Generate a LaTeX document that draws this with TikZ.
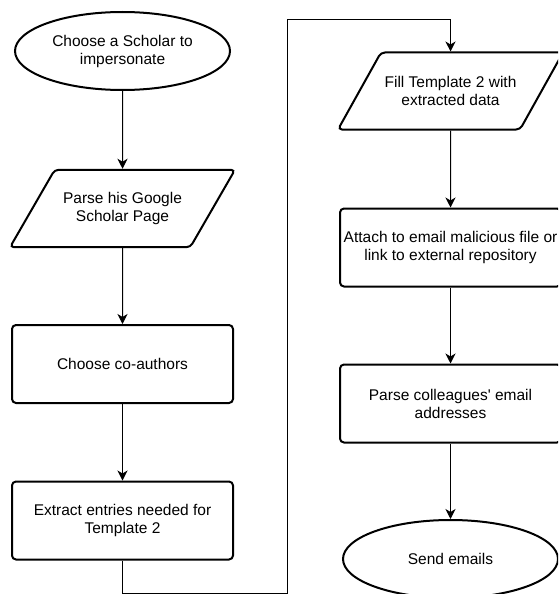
\documentclass[tikz,border=0pt]{standalone}
\usepackage{fontspec}
\setmainfont{Liberation Sans}
\usepackage{tikz}
\usetikzlibrary{shapes.geometric,arrows.meta}

\tikzset{
  base/.style={draw, line width=2pt, align=center, inner sep=0pt,
    font=\fontsize{15.5}{18}\selectfont},
  terminal/.style={base, ellipse, minimum width=215pt, minimum height=78pt},
  io/.style={base, trapezium, trapezium left angle=60, trapezium right angle=120,
    trapezium stretches body, inner ysep=22.5pt, minimum width=225pt,
    minimum height=77pt, rounded corners=4pt},
  process/.style={base, rectangle, rounded corners=4pt,
    minimum width=221pt, minimum height=78pt},
  flow/.style={line width=1pt, -{Stealth[length=10pt,width=10pt,inset=3pt]}}
}

\begin{document}
\begin{tikzpicture}[x=1pt,y=-1pt]

% Fix the page to the size of the reference
\useasboundingbox (0,0) rectangle (558,594);
\clip (0,0) rectangle (558,594);

% Corners of the long connector
\coordinate (low) at (287,593);
\coordinate (high) at (287,20);

% Left column
\node[terminal] (scholar) at (122.5,51) {Choose a Scholar to\\impersonate};
\node[io] (page) at (122.5,208.5) {Parse his Google\\Scholar Page};
\node[process] (coauthors) at (122.5,364) {Choose co-authors};
\node[process] (extract) at (122.5,520.5) {Extract entries needed for\\Template 2};

% Right column
\node[io] (fill) at (450.5,91) {Fill Template 2 with\\extracted data};
\node[process] (attach) at (450.5,247.5) {Attach to email malicious file or\\link to external repository};
\node[process] (colleagues) at (450.5,403.5) {Parse colleagues\textquotesingle{} email\\addresses};
\node[terminal] (send) at (450.5,559) {Send emails};

% Connectors
\draw[flow] (scholar) -- (page);
\draw[flow] (page) -- (coauthors);
\draw[flow] (coauthors) -- (extract);
\draw[flow] (extract) |- (low) -- (high) -| (fill);
\draw[flow] (fill) -- (attach);
\draw[flow] (attach) -- (colleagues);
\draw[flow] (colleagues) -- (send);

\end{tikzpicture}
\end{document}
